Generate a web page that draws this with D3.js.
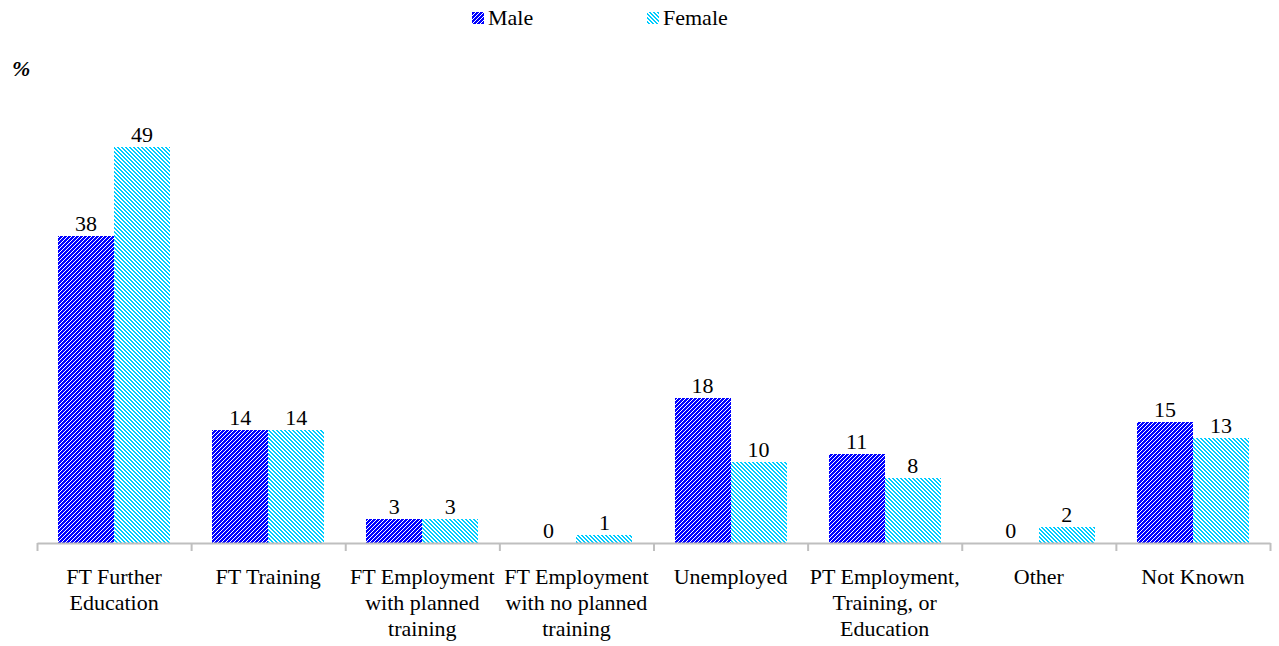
<!DOCTYPE html>
<html>
<head>
<meta charset="utf-8">
<script src="https://cdn.jsdelivr.net/npm/d3@7"></script>
<style>
  body { margin: 0; background: #fff; }
</style>
</head>
<body>
<svg id="chart" width="1279" height="646"></svg>
<script>
// chart data
var categories = [
  'FT Further Education',
  'FT Training',
  'FT Employment with planned training',
  'FT Employment with no planned training',
  'Unemployed',
  'PT Employment, Training, or Education',
  'Other',
  'Not Known'
];
var series = ['Male', 'Female'];
var maleValues = [38, 14, 3, 0, 18, 11, 0, 15];
var femaleValues = [49, 14, 3, 1, 10, 8, 2, 13];

var left = 37, right = 1270,
    baseY = 543,
    serif = 'Liberation Serif',
    fontSize = 22;

var svg = d3.select('#chart');

// hatch patterns: blue "/" for male, cyan "\" for female
var defs = svg.append('defs');
var fills = { Male: '#0000ff', Female: '#00ccff' };
series.forEach(function(s) {
  var p = defs.append('pattern')
    .attr('id', 'hatch-' + s)
    .attr('patternUnits', 'userSpaceOnUse')
    .attr('width', 4)
    .attr('height', 4);
  p.append('rect').attr('width', 4).attr('height', 4).attr('fill', fills[s])
    .attr('shape-rendering', 'crispEdges');
  for (var k = 0; k < 4; k++) {
    var px = s === 'Male' ? 3 - k : k;
    p.append('rect')
      .attr('x', px).attr('y', k)
      .attr('width', 1).attr('height', 1)
      .attr('fill', '#fff')
      .attr('shape-rendering', 'crispEdges');
    if (s === 'Female') {
      p.append('rect')
        .attr('x', (px + 1) % 4).attr('y', k)
        .attr('width', 1).attr('height', 1)
        .attr('fill', '#fff')
        .attr('shape-rendering', 'crispEdges');
    }
  }
});

var x = d3.scaleBand().domain(categories).range([left, right]).padding(0);
var xSub = d3.scaleBand().domain(series).range([0, x.bandwidth()]).paddingOuter(0.375).paddingInner(0);
var y = d3.scaleLinear().domain([0, 60]).range([baseY, baseY - 60 * 8.08]);

var cells = [];
categories.forEach(function(c, i) {
  cells.push({ cat: c, s: 'Male', v: maleValues[i] });
  cells.push({ cat: c, s: 'Female', v: femaleValues[i] });
});

function barX(d) { return Math.round(x(d.cat) + xSub(d.s)); }

// bars
svg.append('g').selectAll('rect')
  .data(cells).enter().append('rect')
  .attr('x', barX)
  .attr('y', function(d) { return Math.round(y(d.v)); })
  .attr('width', Math.round(xSub.bandwidth()))
  .attr('height', function(d) { return baseY - Math.round(y(d.v)); })
  .attr('fill', function(d) { return 'url(#hatch-' + d.s + ')'; })
  .attr('shape-rendering', 'crispEdges');

// value labels
svg.append('g').selectAll('text')
  .data(cells).enter().append('text')
  .attr('x', function(d) { return x(d.cat) + xSub(d.s) + xSub.bandwidth() / 2; })
  .attr('y', function(d) { return y(d.v) - 5; })
  .attr('text-anchor', 'middle')
  .attr('font-family', serif)
  .attr('font-size', fontSize)
  .text(function(d) { return d3.format('.0f')(d.v); });

// axis with ticks at category boundaries
var xEdge = d3.scaleLinear().domain([0, categories.length]).range([left, right]);
var axis = svg.append('g')
  .attr('transform', 'translate(0,' + baseY + ')')
  .call(d3.axisBottom(xEdge).ticks(categories.length).tickSize(8).tickSizeOuter(0).tickFormat(''));
axis.select('.domain').attr('stroke', '#bfbfbf').attr('stroke-width', 2);
axis.selectAll('.tick line').attr('stroke', '#bfbfbf').attr('stroke-width', 2);

// category labels, wrapped
function wrap(sel, w) {
  sel.each(function() {
    var t = d3.select(this), words = t.text().split(' '), line = [], lines = [];
    t.text(null);
    var probe = t.append('tspan');
    words.forEach(function(word) {
      line.push(word);
      probe.text(line.join(' '));
      if (probe.node().getComputedTextLength() > w && line.length > 1) {
        line.pop();
        lines.push(line.join(' '));
        line = [word];
      }
    });
    lines.push(line.join(' '));
    probe.remove();
    lines.forEach(function(l, i) {
      t.append('tspan').attr('x', t.attr('x')).attr('dy', i === 0 ? 0 : 26).text(l);
    });
  });
}

svg.append('g').selectAll('text')
  .data(categories).enter().append('text')
  .attr('x', function(d) { return x(d) + x.bandwidth() / 2; })
  .attr('y', 584)
  .attr('text-anchor', 'middle')
  .attr('font-family', serif)
  .attr('font-size', fontSize)
  .text(function(d) { return d; })
  .call(wrap, x.bandwidth());

// % label
svg.append('text')
  .attr('x', 12)
  .attr('y', 76)
  .attr('font-family', serif)
  .attr('font-size', fontSize)
  .attr('font-style', 'italic')
  .attr('font-weight', 'bold')
  .text('%');

// legend
var legendX = { Male: 472, Female: 647 };
var legend = svg.append('g').selectAll('g')
  .data(series).enter().append('g')
  .attr('transform', function(d) { return 'translate(' + legendX[d] + ',12)'; });
legend.append('rect')
  .attr('width', 12).attr('height', 12)
  .attr('fill', function(d) { return 'url(#hatch-' + d + ')'; })
  .attr('shape-rendering', 'crispEdges');
legend.append('text')
  .attr('x', 16).attr('y', 13)
  .attr('font-family', serif)
  .attr('font-size', fontSize)
  .text(function(d) { return d; });
</script>
</body>
</html>
